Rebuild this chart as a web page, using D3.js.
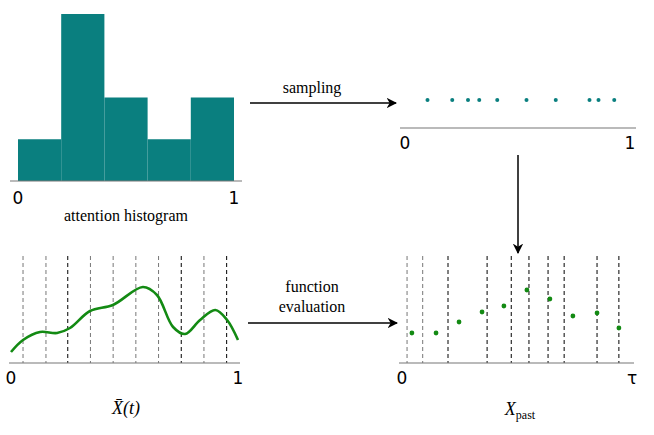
<!DOCTYPE html>
<html><head><meta charset="utf-8">
<script src="https://cdn.jsdelivr.net/npm/d3@7"></script>
<style>body{margin:0;background:#fff}</style>
</head><body>
<svg id="chart" width="654" height="435"></svg>
<script>
// histogram bins (0..1 split into 5), relative counts
const binEdges = [0, 0.2, 0.4, 0.6, 0.8, 1.0];
const binCounts = [1, 4, 2, 1, 2];
// sampled times
const sampleTimes = [0.10, 0.21, 0.28, 0.33, 0.41, 0.54, 0.67, 0.82, 0.86, 0.93];
// smooth function X(t)
const curveT = [0, 0.053, 0.128, 0.203, 0.26, 0.348, 0.449, 0.581, 0.643, 0.714, 0.767, 0.833, 0.9, 0.952, 1.0];
const curveV = [11, 23, 31, 30, 35, 52, 58, 76, 68, 36, 29, 43, 53, 43, 23];
// dashed grid positions, left panel
const gridLeft = [0.053, 0.154, 0.25, 0.35, 0.45, 0.55, 0.65, 0.75, 0.85, 0.95];
const gridLeftDark = [false, false, true, false, false, false, false, true, false, true];
// evaluated points, right panel (fraction of tau)
const gridRight = [0.022, 0.09, 0.2, 0.37, 0.475, 0.552, 0.635, 0.705, 0.848, 0.943];
const gridRightDark = [false, false, true, true, true, true, true, true, true, true];
const pastT = [0.043, 0.148, 0.248, 0.348, 0.443, 0.543, 0.643, 0.743, 0.848, 0.943];
const pastV = [30, 30, 41, 51, 57, 73, 64, 47, 50, 35];

const svg = d3.select("#chart");
const teal = "#0a7f7f", green = "#138a13";
const serif = "'Liberation Serif', serif", sans = "'DejaVu Sans', sans-serif";

svg.append("defs").append("marker").attr("id","ah")
  .attr("viewBox","0 0 10 10").attr("refX",9).attr("refY",5)
  .attr("markerWidth",7).attr("markerHeight",7).attr("orient","auto")
  .append("path").attr("d","M0,0 L10,5 L0,10 L3,5 z").attr("fill","#000");

function axisLine(x0, x1, y){
  svg.append("line").attr("x1",x0).attr("x2",x1).attr("y1",y).attr("y2",y)
    .attr("stroke","#777").attr("stroke-width",1.2);
}
function tickLabel(x, y, t){
  svg.append("text").attr("x",x).attr("y",y).attr("text-anchor","middle")
    .attr("font-family",sans).attr("font-size",17).text(t);
}

// ---- top left: histogram
const xh = d3.scaleLinear().domain([0,1]).range([18,234]);
const yh = d3.scaleLinear().domain([0,4]).range([181,14]);
svg.selectAll(".bar").data(binCounts).join("rect")
  .attr("x",(d,i)=>xh(binEdges[i])).attr("width",(d,i)=>xh(binEdges[i+1])-xh(binEdges[i]))
  .attr("y",d=>yh(d)).attr("height",d=>yh(0)-yh(d)).attr("fill",teal);
axisLine(10,242,181);
tickLabel(xh(0),204,"0"); tickLabel(xh(1),204,"1");
svg.append("text").attr("x",126).attr("y",221).attr("text-anchor","middle")
  .attr("font-family",serif).attr("font-size",16).text("attention histogram");

// ---- top right: samples
const xs = d3.scaleLinear().domain([0,1]).range([405,630]);
axisLine(400,636,128);
svg.selectAll(".samp").data(sampleTimes).join("circle")
  .attr("cx",d=>xs(d)).attr("cy",100).attr("r",2).attr("fill",teal);
tickLabel(xs(0),149,"0"); tickLabel(xs(1),149,"1");

// ---- bottom left: function
const xf = d3.scaleLinear().domain([0,1]).range([11,238]);
const yf = d3.scaleLinear().domain([0,100]).range([363,263]);
svg.selectAll(".gl").data(gridLeft).join("line")
  .attr("x1",d=>xf(d)).attr("x2",d=>xf(d)).attr("y1",256).attr("y2",363)
  .attr("stroke",(d,i)=>gridLeftDark[i]?"#000":"#777").attr("stroke-width",1)
  .attr("stroke-dasharray","4,3");
axisLine(9,240,363);
svg.append("path").datum(curveT.map((t,i)=>[t,curveV[i]]))
  .attr("d",d3.line().x(d=>xf(d[0])).y(d=>yf(d[1])).curve(d3.curveCatmullRom))
  .attr("fill","none").attr("stroke",green).attr("stroke-width",2.6);
tickLabel(xf(0),384,"0"); tickLabel(xf(1),384,"1");
svg.append("text").attr("x",126).attr("y",414).attr("text-anchor","middle")
  .attr("font-family",serif).attr("font-size",18).attr("font-style","italic").text("X\u0304(t)");

// ---- bottom right: evaluated points
const xp = d3.scaleLinear().domain([0,1]).range([402,632]);
svg.selectAll(".gr").data(gridRight).join("line")
  .attr("x1",d=>xp(d)).attr("x2",d=>xp(d)).attr("y1",256).attr("y2",363)
  .attr("stroke",(d,i)=>gridRightDark[i]?"#000":"#777").attr("stroke-width",1)
  .attr("stroke-dasharray","4,3");
axisLine(399,634,363);
svg.selectAll(".pp").data(pastT).join("circle")
  .attr("cx",d=>xp(d)).attr("cy",(d,i)=>yf(pastV[i])).attr("r",2.4).attr("fill",green);
tickLabel(xp(0),384,"0"); tickLabel(xp(1),384,"τ");
const lab = svg.append("text").attr("x",520).attr("y",415).attr("text-anchor","middle")
  .attr("font-family",serif).attr("font-size",18);
lab.append("tspan").attr("font-style","italic").text("X");
lab.append("tspan").attr("font-size",12).attr("dy",4).text("past");

// ---- arrows
function arrow(x1,y1,x2,y2){
  svg.append("line").attr("x1",x1).attr("y1",y1).attr("x2",x2).attr("y2",y2)
    .attr("stroke","#000").attr("stroke-width",1.5).attr("marker-end","url(#ah)");
}
arrow(250,103,396,103);
arrow(518,155,518,253);
arrow(248,323,397,323);
function label(x,y,t){
  svg.append("text").attr("x",x).attr("y",y).attr("text-anchor","middle")
    .attr("font-family",serif).attr("font-size",16).text(t);
}
label(312,93,"sampling");
label(312,292,"function");
label(312,303+9,"evaluation");
</script>
</body></html>
